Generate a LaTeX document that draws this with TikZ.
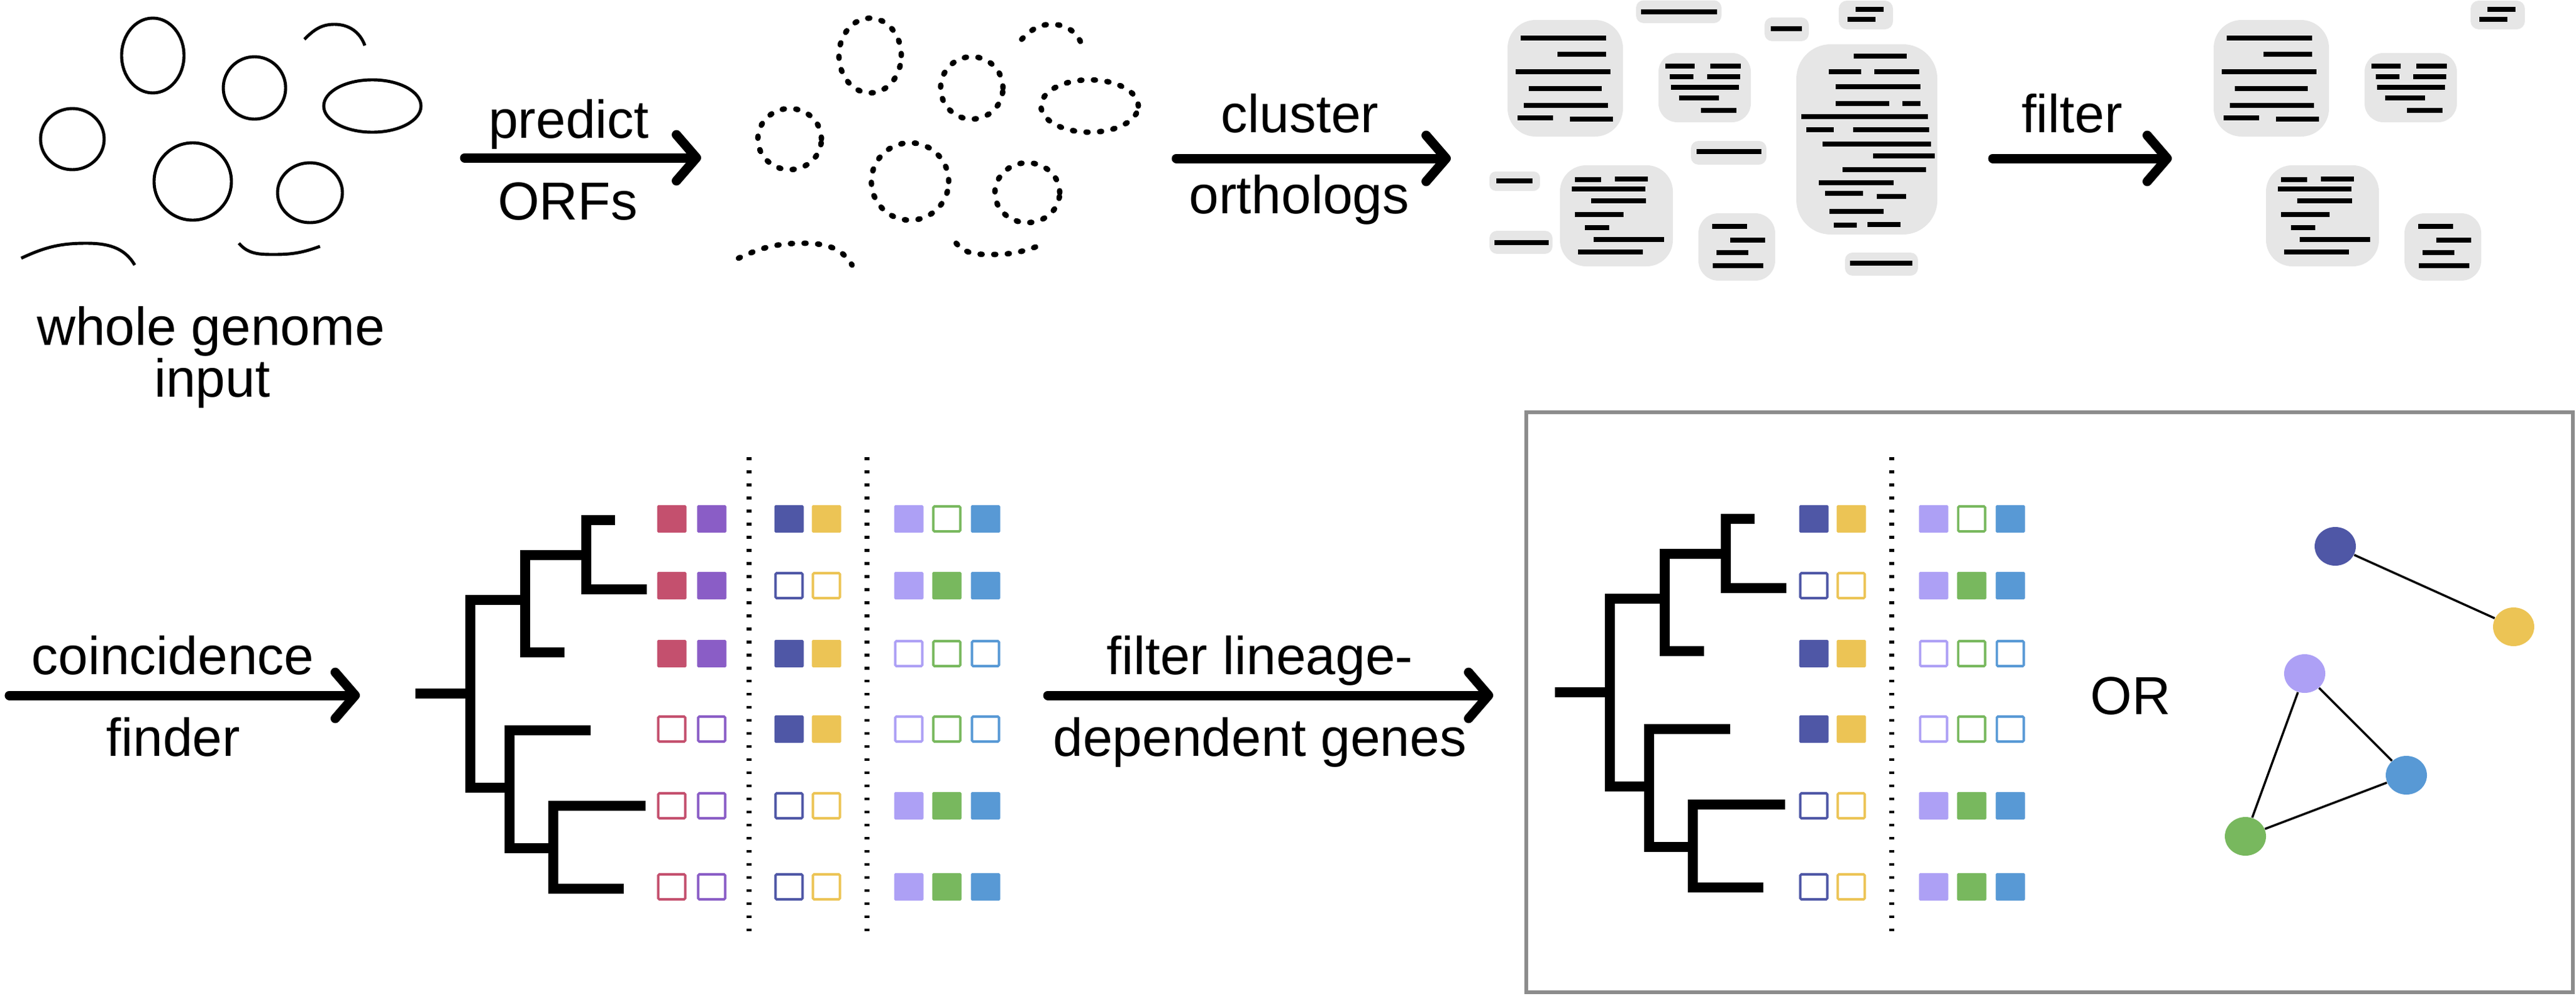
\documentclass[tikz,border=0pt]{standalone}
\usepackage{fontspec}
\setmainfont{Liberation Sans}
\usetikzlibrary{arrows.meta, shapes.geometric, positioning}

\definecolor{cred}{HTML}{C4506E}
\definecolor{cpurple}{HTML}{8A5DC6}
\definecolor{cnavy}{HTML}{4F57A6}
\definecolor{cyellow}{HTML}{ECC455}
\definecolor{clav}{HTML}{ADA0F5}
\definecolor{cgreen}{HTML}{78B85E}
\definecolor{cblue}{HTML}{5899D5}
\definecolor{clustergray}{HTML}{E6E6E6}
\definecolor{boxgray}{HTML}{8C8C8C}

\newcommand{\genomes}[1]{%
  \draw[#1] (2.45,-0.89) ellipse (0.50 and 0.60);
  \draw[#1] (4.08,-1.41) ellipse (0.50 and 0.50);
  \draw[#1] (5.97,-1.70) ellipse (0.78 and 0.42);
  \draw[#1] (1.16,-2.23) ellipse (0.51 and 0.49);
  \draw[#1] (3.09,-2.91) ellipse (0.62 and 0.62);
  \draw[#1] (4.97,-3.09) ellipse (0.52 and 0.48);
  \draw[#1] (4.88,-0.63) to[out=45,in=180] (5.36,-0.39) to[out=0,in=110] (5.85,-0.73);
  \draw[#1] (0.34,-4.14) to[out=25,in=180] (1.38,-3.90) to[out=0,in=120] (2.16,-4.25);
  \draw[#1] (3.83,-3.90) to[out=-50,in=180] (4.40,-4.08) to[out=0,in=200] (5.13,-3.95);}
\newcommand{\clu}[5]{\fill[clustergray, rounded corners=#5cm] (#1,#2) rectangle (#3,#4);}
\newcommand{\orf}[3]{\draw[orfbar] (#1,#3) -- (#2,#3);}
\newcommand{\clA}{\clu{24.17}{-0.32}{26.02}{-2.19}{0.45}
  \orf{24.38}{25.75}{-0.61} \orf{24.97}{25.75}{-0.87} \orf{24.30}{25.82}{-1.15}
  \orf{24.51}{25.68}{-1.42} \orf{24.43}{25.78}{-1.69} \orf{24.33}{24.90}{-1.89}
  \orf{25.17}{25.86}{-1.91}}
\newcommand{\clD}{\clu{29.48}{-0.01}{30.35}{-0.47}{0.13}
  \orf{29.75}{30.20}{-0.15} \orf{29.62}{30.07}{-0.31}}
\newcommand{\clE}{\clu{26.59}{-0.85}{28.07}{-1.96}{0.30}
  \orf{26.70}{27.17}{-1.06} \orf{27.42}{27.91}{-1.06} \orf{26.77}{27.15}{-1.23}
  \orf{27.37}{27.90}{-1.23} \orf{26.79}{27.88}{-1.40} \orf{26.92}{27.56}{-1.57}
  \orf{27.27}{27.84}{-1.77}}
\newcommand{\clI}{\clu{25.01}{-2.65}{26.82}{-4.27}{0.42}
  \orf{25.25}{25.67}{-2.88} \orf{25.89}{26.42}{-2.87} \orf{25.20}{26.38}{-3.03}
  \orf{25.51}{26.39}{-3.22} \orf{25.25}{26.03}{-3.44} \orf{25.41}{25.80}{-3.65}
  \orf{25.55}{26.68}{-3.84} \orf{25.30}{26.34}{-4.04}}
\newcommand{\clJ}{\clu{27.23}{-3.42}{28.46}{-4.50}{0.32}
  \orf{27.45}{28.01}{-3.63} \orf{27.74}{28.30}{-3.85} \orf{27.52}{28.03}{-4.05}
  \orf{27.46}{28.27}{-4.26}}
\newcommand{\phylo}{%
  \draw[tree] (0,0) -- (0.88,0);
  \draw[tree] (1.76,1.50) -- (0.88,1.50) -- (0.88,-1.51) -- (1.51,-1.51);
  \draw[tree] (2.74,2.22) -- (1.76,2.22) -- (1.76,0.66) -- (2.39,0.66);
  \draw[tree] (3.20,2.78) -- (2.74,2.78) -- (2.74,1.67) -- (3.71,1.67);
  \draw[tree] (2.81,-0.59) -- (1.51,-0.59) -- (1.51,-2.48) -- (2.21,-2.48);
  \draw[tree] (3.69,-1.80) -- (2.21,-1.80) -- (2.21,-3.13) -- (3.34,-3.13);}
\newcommand{\gsq}[4]{\ifnum#4=1 \fill[#3, rounded corners=0.5pt] ({#1-0.235},{#2-0.22}) rectangle ++(0.47,0.44);%
  \else\draw[#3, line width=1.1pt, rounded corners=0.5pt] ({#1-0.216},{#2-0.201}) rectangle ++(0.432,0.402);\fi}

\begin{document}
\begin{tikzpicture}[
    lbl/.style={font=\fontsize{24.4}{29}\selectfont, inner sep=0pt, anchor=base},
    flow/.style={line width=0.15cm, line cap=round, -{Straight Barb[length=0.32cm,width=0.74cm,round]}},
    tree/.style={line width=0.16cm},
    genome/.style={line width=1.4pt},
    orfdots/.style={line width=2.5pt, line cap=round, dash pattern=on 0.9pt off 5.3pt},
    orfbar/.style={line width=0.085cm},
    sep/.style={line width=0.08cm, dash pattern=on 0.045cm off 0.165cm},
    vertex/.style={ellipse, minimum width=0.66cm, minimum height=0.62cm, inner sep=0pt},
    link/.style={line width=1pt}]
    \useasboundingbox (0,0) rectangle (41.30,-15.96);

    \genomes{genome}
    \begin{scope}[xshift=11.5cm]
        \genomes{orfdots}
    \end{scope}
    \node[lbl] (whole) at (3.38,-5.53) {whole genome};
    \node[lbl] (input) at (3.40,-6.36) {input};

    \clA \clD \clE \clI \clJ
    \clu{26.23}{-0.005}{27.60}{-0.37}{0.12} \orf{26.31}{27.53}{-0.19}
    \clu{28.29}{-0.28}{29.00}{-0.66}{0.12} \orf{28.39}{28.89}{-0.46}
    \clu{27.11}{-2.26}{28.32}{-2.64}{0.12} \orf{27.20}{28.24}{-2.43}
    \clu{23.88}{-2.75}{24.69}{-3.06}{0.10} \orf{23.99}{24.57}{-2.90}
    \clu{23.88}{-3.70}{24.89}{-4.07}{0.12} \orf{23.96}{24.83}{-3.89}
    \clu{29.58}{-4.05}{30.75}{-4.42}{0.12} \orf{29.66}{30.66}{-4.22}
    \clu{28.80}{-0.71}{31.06}{-3.76}{0.55}
    \orf{29.72}{30.57}{-0.90} \orf{29.32}{29.84}{-1.15} \orf{30.05}{30.77}{-1.15}
    \orf{29.43}{30.79}{-1.39} \orf{29.43}{30.29}{-1.66} \orf{30.50}{30.79}{-1.66}
    \orf{28.88}{30.91}{-1.87} \orf{28.96}{29.40}{-2.08} \orf{29.71}{30.93}{-2.08}
    \orf{29.22}{30.96}{-2.31} \orf{30.03}{31.02}{-2.50} \orf{29.54}{30.88}{-2.72}
    \orf{29.16}{30.36}{-2.93} \orf{29.26}{29.87}{-3.10} \orf{30.09}{30.56}{-3.15}
    \orf{29.33}{30.20}{-3.39} \orf{29.40}{29.77}{-3.61} \orf{29.94}{30.47}{-3.60}
    \begin{scope}[xshift=11.32cm]
        \clA \clE \clI \clJ
    \end{scope}
    \begin{scope}[xshift=10.13cm]
        \clD
    \end{scope}

    \coordinate (s0) at (7.45,-2.53);  \coordinate (e0) at (11.24,-2.53);
    \coordinate (s1) at (18.86,-2.54); \coordinate (e1) at (23.26,-2.54);
    \coordinate (s2) at (31.95,-2.54); \coordinate (e2) at (34.82,-2.54);
    \coordinate (s3) at (0.15,-11.15); \coordinate (e3) at (5.77,-11.15);
    \coordinate (s4) at (16.80,-11.15); \coordinate (e4) at (23.94,-11.15);
    \draw[flow] (s0) -- (e0);
    \draw[flow] (s1) -- (e1);
    \draw[flow] (s2) -- (e2);
    \draw[flow] (s3) -- (e3);
    \draw[flow] (s4) -- (e4);
    \node[lbl] (predict) at (9.12,-2.21) {predict};
    \node[lbl] (orfs) at (9.10,-3.52) {ORFs};
    \node[lbl] (cluster) at (20.84,-2.12) {cluster};
    \node[lbl] (orthologs) at (20.83,-3.42) {orthologs};
    \node[lbl] (filter) at (33.22,-2.12) {filter};
    \node[lbl] (coinc) at (2.77,-10.81) {coincidence};
    \node[lbl] (finder) at (2.78,-12.12) {finder};
    \node[lbl] (lineage) at (20.20,-10.81) {filter lineage-};
    \node[lbl] (dependent) at (20.20,-12.12) {dependent genes};

    \begin{scope}[shift={(6.66,-11.12)}]
        \phylo
    \end{scope}
    \begin{scope}[shift={(24.93,-11.10)}]
        \phylo
    \end{scope}
    \foreach \y/\sa/\sb/\sc/\sd/\se/\sf/\sg in {-8.32/1/1/1/1/1/0/1, -9.39/1/1/0/0/1/1/1,
        -10.48/1/1/1/1/0/0/0, -11.69/0/0/1/1/0/0/0, -12.92/0/0/0/0/1/1/1, -14.22/0/0/0/0/1/1/1}{
        \gsq{10.77}{\y}{cred}{\sa}
        \gsq{11.41}{\y}{cpurple}{\sb}
        \foreach \dx in {0,16.43}{
            \gsq{12.65+\dx}{\y}{cnavy}{\sc}
            \gsq{13.25+\dx}{\y}{cyellow}{\sd}
            \gsq{14.57+\dx}{\y}{clav}{\se}
            \gsq{15.18+\dx}{\y}{cgreen}{\sf}
            \gsq{15.80+\dx}{\y}{cblue}{\sg}
        }
    }
    \foreach \x in {12.01,13.90,30.33}
        \draw[sep] (\x,-7.33) -- (\x,-14.95);

    \draw[boxgray, line width=0.065cm] (24.47,-6.61) rectangle (41.25,-15.91);
    \node[lbl] (or) at (34.16,-11.45) {OR};
    \node[vertex, fill=cnavy] (g0) at (37.44,-8.76) {};
    \node[vertex, fill=cyellow] (g1) at (40.30,-10.05) {};
    \node[vertex, fill=clav] (g2) at (36.95,-10.80) {};
    \node[vertex, fill=cblue] (g3) at (38.58,-12.43) {};
    \node[vertex, fill=cgreen] (g4) at (36.00,-13.41) {};
    \path[link]
    (g0) edge (g1)
    (g2) edge (g3)
    (g2) edge (g4)
    (g4) edge (g3)
    ;
\end{tikzpicture}
\end{document}
